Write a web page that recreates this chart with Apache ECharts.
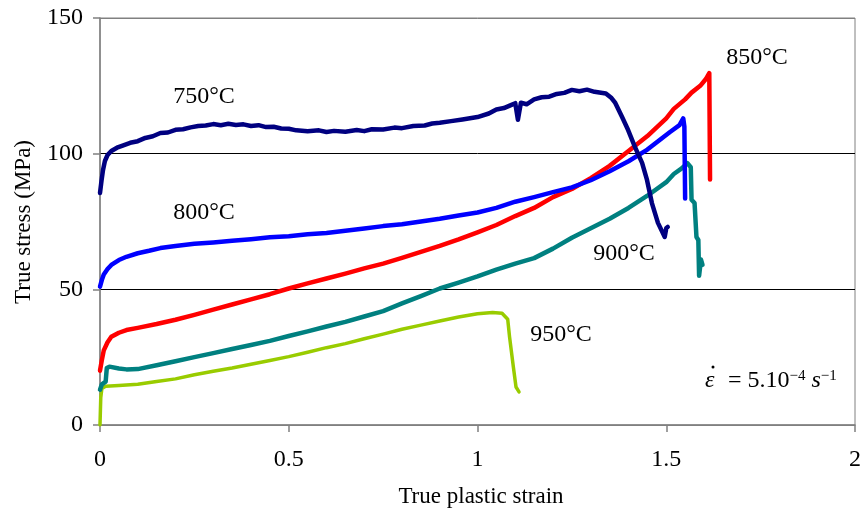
<!DOCTYPE html>
<html>
<head>
<meta charset="utf-8">
<script src="https://cdn.jsdelivr.net/npm/echarts@6/dist/echarts.min.js"></script>
<style>
html,body{margin:0;padding:0;background:#fff;}
#chart{width:864px;height:515px;}
</style>
</head>
<body>
<div id="chart"></div>
<script>
// Axis ticks
const xTicks = [0, 0.5, 1, 1.5, 2];
const yTicks = [0, 50, 100, 150];
const seriesNames = ['750°C', '800°C', '850°C', '900°C', '950°C'];

// [true plastic strain, true stress (MPa)]
const curve750 = [[0,85.5],[0.004,90],[0.008,94],[0.013,97.3],[0.02,99.5],[0.03,101],[0.045,102.2],[0.06,103],[0.08,104],[0.1,104.6],[0.12,105.8],[0.14,106.4],[0.16,107.6],[0.18,107.8],[0.2,108.8],[0.22,109],[0.24,109.7],[0.26,110.2],[0.28,110.4],[0.3,110.9],[0.32,110.5],[0.34,111],[0.36,110.6],[0.38,110.8],[0.4,110.2],[0.42,110.5],[0.44,109.8],[0.46,109.9],[0.48,109.3],[0.5,109.2],[0.52,108.6],[0.55,108.3],[0.58,108.6],[0.6,108],[0.62,108.4],[0.65,108.1],[0.68,108.7],[0.7,108.3],[0.72,109],[0.75,108.9],[0.78,109.6],[0.8,109.4],[0.83,110.2],[0.86,110.4],[0.88,111.1],[0.9,111.4],[0.93,112],[0.96,112.6],[1.0,113.5],[1.03,114.8],[1.05,116.3],[1.07,116.8],[1.09,118],[1.1,118.6],[1.107,112.5],[1.115,118.8],[1.13,118.2],[1.15,120],[1.17,120.8],[1.19,121],[1.21,122],[1.23,122.4],[1.25,123.5],[1.27,123],[1.29,123.6],[1.31,122.8],[1.34,122.2],[1.355,120.5],[1.365,118.7],[1.383,113.5],[1.399,108.7],[1.417,102.5],[1.436,96.6],[1.449,90.3],[1.462,81.8],[1.478,74.5],[1.496,69.3],[1.5,72.5],[1.504,73]];
const curve800 = [[0,51],[0.005,53.5],[0.01,55.5],[0.02,57.5],[0.03,59],[0.05,60.8],[0.07,62],[0.1,63.3],[0.13,64.2],[0.16,65.2],[0.2,66],[0.25,66.8],[0.3,67.3],[0.35,67.9],[0.4,68.5],[0.45,69.2],[0.5,69.6],[0.55,70.3],[0.6,70.8],[0.65,71.6],[0.7,72.4],[0.75,73.3],[0.8,74],[0.85,75],[0.9,76],[0.95,77.2],[1.0,78.3],[1.05,80],[1.1,82.3],[1.15,84],[1.2,85.8],[1.25,87.6],[1.3,90.2],[1.35,93.5],[1.4,97.2],[1.45,101.5],[1.48,104.8],[1.51,108],[1.535,110.5],[1.545,113],[1.548,110],[1.55,83.5]];
const curve850 = [[0,20],[0.005,24],[0.01,27.5],[0.02,30.5],[0.03,32.5],[0.05,34],[0.07,35],[0.1,35.8],[0.15,37.2],[0.2,38.8],[0.25,40.6],[0.3,42.5],[0.35,44.4],[0.4,46.3],[0.45,48.2],[0.5,50.3],[0.55,52.2],[0.6,54],[0.65,55.8],[0.7,57.7],[0.75,59.5],[0.8,61.6],[0.85,63.8],[0.9,66],[0.95,68.4],[1.0,71],[1.05,73.7],[1.1,77],[1.15,80],[1.2,84],[1.25,87],[1.3,91],[1.35,95.5],[1.4,101],[1.45,106.5],[1.5,113],[1.52,116.5],[1.55,120],[1.567,122.5],[1.59,125],[1.605,127.5],[1.614,129.7],[1.616,90.5]];
const curve900 = [[0,13],[0.005,15],[0.015,16],[0.018,21],[0.025,21.5],[0.05,20.8],[0.07,20.5],[0.1,20.6],[0.15,22],[0.2,23.5],[0.25,25],[0.3,26.5],[0.35,28],[0.4,29.5],[0.45,31],[0.5,32.8],[0.55,34.5],[0.6,36.3],[0.65,38],[0.7,40],[0.75,42],[0.8,44.8],[0.85,47.5],[0.9,50.3],[0.95,52.5],[1.0,54.8],[1.05,57.3],[1.1,59.5],[1.15,61.5],[1.2,65],[1.25,69],[1.3,72.5],[1.35,76],[1.4,80],[1.45,84.5],[1.5,89.5],[1.52,92.5],[1.54,94.5],[1.556,96.5],[1.565,95],[1.567,83],[1.575,81.8],[1.58,69.3],[1.585,68.2],[1.587,55],[1.592,61],[1.596,59]];
const curve950 = [[0,0],[0.002,10],[0.005,13.5],[0.015,14.3],[0.05,14.6],[0.1,15],[0.15,16],[0.2,17],[0.25,18.5],[0.3,19.8],[0.35,21],[0.4,22.4],[0.45,23.8],[0.5,25.2],[0.55,26.8],[0.6,28.5],[0.65,30],[0.7,31.8],[0.75,33.5],[0.8,35.3],[0.85,36.8],[0.9,38.3],[0.95,39.8],[1.0,41],[1.04,41.5],[1.065,41.2],[1.08,39],[1.085,32.4],[1.095,21.4],[1.102,14],[1.11,12.2]];

const colors = ['#000080', '#0000ff', '#ff0000', '#008080', '#99cc00'];
const curves = [curve750, curve800, curve850, curve900, curve950];
const widths = [4.5, 4.5, 4.5, 4.5, 3.5];

const serif = '"Liberation Serif", "Times New Roman", serif';
const chart = echarts.init(document.getElementById('chart'), null, {renderer: 'canvas'});

const series = curves.map((c, i) => ({
  name: seriesNames[i],
  type: 'line',
  data: c,
  showSymbol: false,
  symbol: 'none',
  animation: false,
  lineStyle: {color: colors[i], width: widths[i], join: 'round', cap: 'round'},
  z: 5 - i
}));

const label = (txt, x, y) => ({type: 'text', x: x, y: y,
  style: {text: txt, font: '24px ' + serif, fill: '#000', textAlign: 'center', textVerticalAlign: 'middle'}});

chart.setOption({
  backgroundColor: '#ffffff',
  animation: false,
  grid: {left: 100, right: 3, top: 18, bottom: 90, show: true, borderColor: '#808080', borderWidth: 1},
  xAxis: {
    type: 'value', min: xTicks[0], max: xTicks[xTicks.length - 1], interval: 0.5,
    axisLine: {show: true, lineStyle: {color: '#808080', width: 1.5}},
    axisTick: {show: true, length: 7, lineStyle: {color: '#808080', width: 1.5}},
    splitLine: {show: false},
    axisLabel: {color: '#000', fontFamily: serif, fontSize: 24, margin: 23,
      formatter: v => String(v)}
  },
  yAxis: {
    type: 'value', min: yTicks[0], max: yTicks[yTicks.length - 1], interval: 50,
    axisLine: {show: true, lineStyle: {color: '#808080', width: 1.5}},
    axisTick: {show: true, length: 7, lineStyle: {color: '#808080', width: 1.5}},
    splitLine: {show: true, lineStyle: {color: ['#808080', '#000000', '#000000', '#808080'], width: 1}},
    axisLabel: {color: '#000', fontFamily: serif, fontSize: 24, margin: 17}
  },
  series: series,
  graphic: [
    {type: 'text', x: 481, y: 497, style: {text: 'True plastic strain', font: '23px ' + serif, fill: '#000', textAlign: 'center', textVerticalAlign: 'middle'}},
    {type: 'text', x: 24, y: 222, rotation: Math.PI / 2, style: {text: 'True stress (MPa)', font: '23px ' + serif, fill: '#000', textAlign: 'center', textVerticalAlign: 'middle'}},
    label(seriesNames[0], 204, 97),
    label(seriesNames[1], 204, 213),
    label(seriesNames[2], 757, 58),
    label(seriesNames[3], 624, 254),
    label(seriesNames[4], 561, 335),
    {type: 'text', x: 705, y: 381, style: {text: 'ε', font: 'italic 24px ' + serif, fill: '#000', textVerticalAlign: 'middle'}},
    {type: 'circle', shape: {cx: 713, cy: 367, r: 1.5}, style: {fill: '#000'}},
    {type: 'text', x: 728, y: 381, style: {
      text: '= 5.10{s|−4}{i| s}{s|−1}',
      font: '24px ' + serif, fill: '#000', textVerticalAlign: 'middle',
      rich: {
        i: {fontFamily: serif, fontSize: 24, fontStyle: 'italic', fill: '#000'},
        s: {fontFamily: serif, fontSize: 15, fill: '#000', verticalAlign: 'top', padding: [0, 0, 10, 0]}
      }
    }}
  ]
});
</script>
</body>
</html>
